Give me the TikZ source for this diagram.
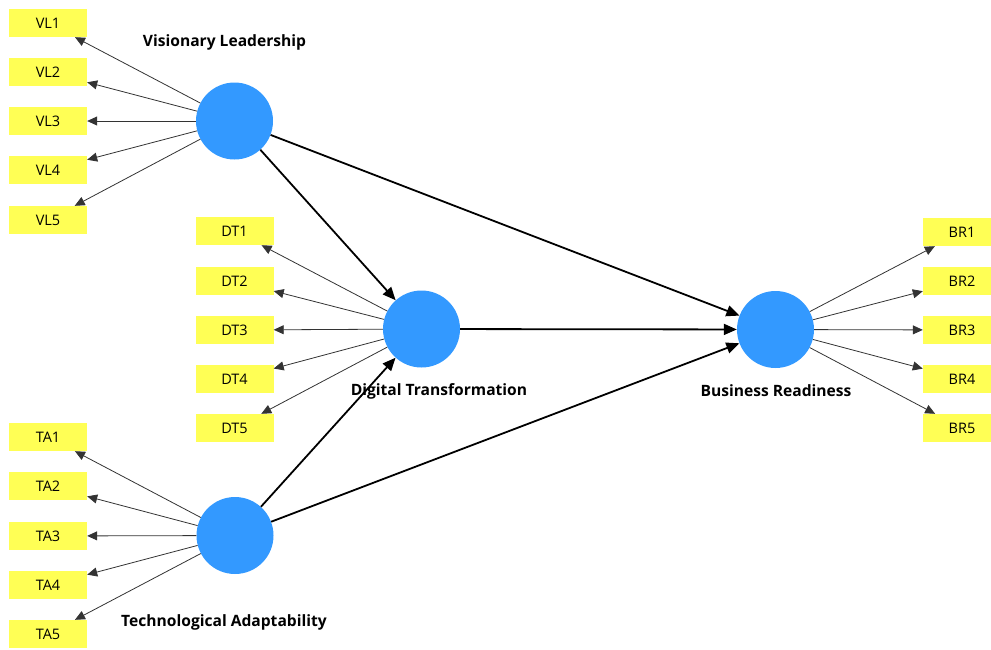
\documentclass[tikz,border=0pt]{standalone}
\usepackage{fontspec}
\setmainfont{Open Sans}
\usetikzlibrary{arrows.meta}
\begin{document}
\begin{tikzpicture}[x=1pt, y=-1pt,
    ind/.style={fill=my-yellow, minimum width=78pt, minimum height=28pt, inner sep=0pt, font=\fontsize{14.5}{16}\selectfont},
    lv/.style={circle, fill=my-blue, minimum size=77pt, inner sep=0pt},
    lvname/.style={font=\fontsize{15.6}{17}\selectfont\bfseries},
    load/.style={-{Triangle[length=10pt,width=9pt]}, draw=black!80, line width=0.8pt},
    effect/.style={-{Triangle[length=13pt,width=11pt]}, draw=black, line width=1.8pt}]
    \definecolor{my-blue}{RGB}{51,153,255}
    \definecolor{my-yellow}{RGB}{255,255,85}
    \clip (0,0) rectangle (991,649);
    \useasboundingbox (0,0) rectangle (991,649);
    \node[lv] (vl) at (234.5,121) {};
    \node[lv] (dt) at (421.5,329) {};
    \node[lv] (br) at (775.5,329.5) {};
    \node[lv] (ta) at (235,535.5) {};
    \node[lvname] (vl-name) at (224.5,42) {Visionary Leadership};
    \node[lvname] (dt-name) at (439,391) {Digital Transformation};
    \node[lvname] (br-name) at (776,391) {Business Readiness};
    \node[lvname] (ta-name) at (224,622) {Technological Adaptability};
    \node[ind] (vl1) at (48,23) {VL1};
    \node[ind] (vl2) at (48,72) {VL2};
    \node[ind] (vl3) at (48,121) {VL3};
    \node[ind] (vl4) at (48,170) {VL4};
    \node[ind] (vl5) at (48,220) {VL5};
    \node[ind] (dt1) at (234.5,231) {DT1};
    \node[ind] (dt2) at (234.5,281) {DT2};
    \node[ind] (dt3) at (234.5,330) {DT3};
    \node[ind] (dt4) at (234.5,379) {DT4};
    \node[ind] (dt5) at (234.5,428) {DT5};
    \node[ind] (br1) at (962,232) {BR1};
    \node[ind] (br2) at (962,281) {BR2};
    \node[ind] (br3) at (962,330) {BR3};
    \node[ind] (br4) at (962,379) {BR4};
    \node[ind] (br5) at (962,428) {BR5};
    \node[ind] (ta1) at (48,437) {TA1};
    \node[ind] (ta2) at (48,486) {TA2};
    \node[ind] (ta3) at (48,536) {TA3};
    \node[ind] (ta4) at (48,585) {TA4};
    \node[ind] (ta5) at (48,634) {TA5};
    \draw[load] (vl) -- (vl1);
    \draw[load] (vl) -- (vl2);
    \draw[load] (vl) -- (vl3);
    \draw[load] (vl) -- (vl4);
    \draw[load] (vl) -- (vl5);
    \draw[load] (dt) -- (dt1);
    \draw[load] (dt) -- (dt2);
    \draw[load] (dt) -- (dt3);
    \draw[load] (dt) -- (dt4);
    \draw[load] (dt) -- (dt5);
    \draw[load] (br) -- (br1);
    \draw[load] (br) -- (br2);
    \draw[load] (br) -- (br3);
    \draw[load] (br) -- (br4);
    \draw[load] (br) -- (br5);
    \draw[load] (ta) -- (ta1);
    \draw[load] (ta) -- (ta2);
    \draw[load] (ta) -- (ta3);
    \draw[load] (ta) -- (ta4);
    \draw[load] (ta) -- (ta5);
    \draw[effect] (vl) -- (dt);
    \draw[effect] (vl) -- (br);
    \draw[effect] (dt) -- (br);
    \draw[effect] (ta) -- (dt);
    \draw[effect] (ta) -- (br);
\end{tikzpicture}
\end{document}
